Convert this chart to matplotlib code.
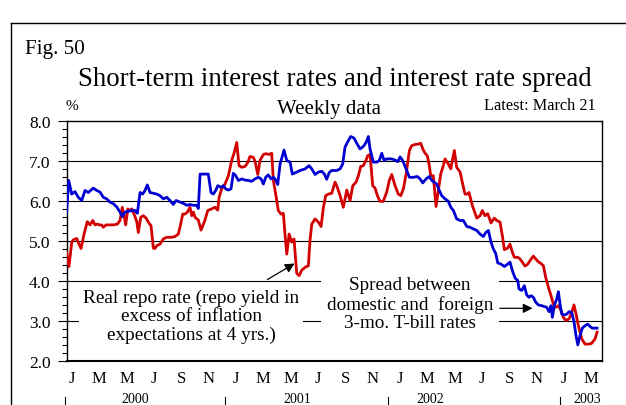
import matplotlib
matplotlib.use("Agg")
import matplotlib.pyplot as plt
from matplotlib.lines import Line2D
from matplotlib.ticker import MultipleLocator

plt.rcParams['font.family'] = ['Liberation Serif', 'DejaVu Serif']

# time axis: months since 1 Jan 2000 (weekly observations)
t_spread = [0.12,0.27,0.49,0.73,0.97,1.22,1.46,1.70,2.07,2.32,2.56,2.80,3.05,3.29,3.53,3.78,
            4.02,4.19,4.39,4.63,4.88,5.12,5.29,5.49,5.68,5.85,6.02,6.22,6.46,6.71,6.95,7.19,
            7.44,7.68,7.92,8.12,8.41,8.71,8.90,9.14,9.39,9.63,9.75,9.88,10.37,10.48,10.68,10.85,
            11.02,11.17,11.41,11.58,11.76,11.95,12.14,12.31,12.49,12.68,12.93,13.17,13.41,13.66,
            13.90,14.14,14.34,14.51,14.68,14.87,15.07,15.24,15.36,15.56,15.73,15.90,16.02,16.22,
            16.46,16.63,16.88,17.19,17.56,17.85,18.05,18.29,18.53,18.78,18.97,19.14,19.33,19.51,
            19.63,19.88,20.12,20.31,20.48,20.65,20.90,21.14,21.34,21.58,21.82,22.02,22.19,22.31,
            22.55,22.80,22.99,23.17,23.34,23.53,23.90,24.14,24.34,24.51,24.70,24.95,25.19,25.48,
            25.77,25.97,26.17,26.41,26.65,26.83,26.99,27.19,27.38,27.56,27.80,28.04,28.22,28.41,
            28.65,28.90,29.14,29.39,29.63,29.87,30.12,30.36,30.60,30.78,30.97,31.16,31.33,31.51,
            31.65,31.89,32.14,32.38,32.55,32.72,32.92,33.12,33.21,33.41,33.60,33.77,33.94,34.09,
            34.26,34.43,34.62,34.87,35.06,35.24,35.41,35.55,35.65,35.79,35.97,36.09,36.21,36.34,
            36.53,36.70,36.87,37.07,37.23,37.38,37.51,37.67,37.84,38.04,38.24,38.41,38.57,38.77,
            38.92]
spread = [5.73,6.52,6.18,6.24,6.10,6.02,6.27,6.22,6.33,6.27,6.23,6.10,6.06,5.98,5.94,5.86,
          5.73,5.62,5.73,5.75,5.77,5.77,5.70,6.22,6.18,6.27,6.41,6.22,6.20,6.18,6.14,6.06,
          6.10,6.02,5.92,6.02,5.98,5.94,5.90,5.92,5.90,5.90,5.82,6.68,6.68,6.68,6.22,6.18,
          6.27,6.39,6.35,6.39,6.31,6.28,6.31,6.70,6.64,6.52,6.56,6.53,6.52,6.50,
          6.56,6.60,6.56,6.43,6.60,6.66,6.56,6.60,6.56,6.42,6.93,7.13,7.28,7.02,
          6.98,6.68,6.72,6.77,6.81,6.89,6.81,6.67,6.73,6.75,6.68,6.55,6.72,6.77,
          6.77,6.77,6.81,6.93,7.35,7.47,7.62,7.58,7.45,7.31,7.37,7.47,7.62,7.31,
          6.98,6.98,7.02,7.20,7.02,7.06,7.06,7.03,6.99,7.11,7.02,6.81,6.60,6.60,
          6.62,6.56,6.46,6.56,6.62,6.52,6.48,6.43,6.27,6.14,6.06,6.00,5.85,5.77,
          5.56,5.52,5.52,5.37,5.35,5.31,5.27,5.18,5.12,5.22,5.27,4.98,4.81,4.69,
          4.46,4.43,4.37,4.43,4.48,4.27,4.08,4.02,3.81,3.77,3.89,3.66,3.60,3.64,
          3.60,3.48,3.41,3.39,3.37,3.35,3.24,3.39,3.10,3.39,3.56,3.74,3.43,3.18,
          3.16,3.18,3.24,3.22,2.99,2.64,2.41,2.64,2.83,2.89,2.93,2.87,2.83,2.83,
          2.83]

t_repo = [0.12,0.29,0.49,0.61,0.86,0.97,1.17,1.39,1.63,1.83,2.03,2.19,2.36,2.51,2.68,2.80,
          3.00,3.24,3.53,3.83,4.02,4.19,4.34,4.44,4.59,4.75,4.88,5.05,5.25,5.36,5.54,5.73,
          5.93,6.09,6.29,6.46,6.58,6.71,6.95,7.19,7.44,7.81,8.05,8.29,8.46,8.61,8.78,8.95,
          9.14,9.27,9.39,9.51,9.75,9.95,10.24,10.44,10.73,10.97,11.17,11.27,11.46,11.70,11.95,12.19,
          12.38,12.56,12.73,12.93,13.17,13.37,13.53,13.77,13.90,14.10,14.26,14.51,14.70,14.92,15.12,15.24,
          15.41,15.60,15.80,15.97,16.09,16.22,16.39,16.58,16.75,16.95,17.12,17.32,17.56,17.80,17.92,18.05,
          18.29,18.53,18.73,18.90,19.07,19.26,19.51,19.75,19.92,20.12,20.36,20.61,20.85,21.05,21.29,21.46,
          21.63,21.82,22.02,22.14,22.31,22.51,22.68,22.85,23.04,23.28,23.53,23.72,23.90,24.14,24.38,24.56,
          24.75,24.95,25.19,25.36,25.60,25.85,26.02,26.17,26.34,26.50,26.65,26.75,26.94,27.14,27.31,27.48,
          27.67,27.80,28.04,28.22,28.33,28.48,28.65,28.90,29.09,29.26,29.43,29.55,29.80,30.12,30.36,30.53,
          30.72,30.92,31.16,31.40,31.58,31.82,31.99,32.14,32.38,32.55,32.72,32.87,33.12,33.28,33.45,33.65,
          33.85,34.02,34.26,34.43,34.62,34.87,34.99,35.16,35.36,35.55,35.72,35.90,36.09,36.28,36.45,36.63,
          36.87,37.07,37.23,37.38,37.55,37.80,38.04,38.33,38.52,38.77,38.92]
repo = [4.72,4.37,4.97,5.04,5.07,4.97,4.82,5.18,5.49,5.41,5.52,5.41,5.43,5.41,5.41,5.35,
        5.41,5.41,5.41,5.43,5.52,5.85,5.60,5.41,5.81,5.77,5.81,5.68,5.49,5.22,5.60,5.64,
        5.58,5.48,5.39,4.83,4.82,4.89,4.93,5.06,5.10,5.10,5.12,5.18,5.43,5.68,5.68,5.73,
        5.85,5.64,5.73,5.60,5.53,5.28,5.53,5.77,5.81,5.85,5.78,6.10,6.31,6.43,6.64,7.02,
        7.22,7.47,6.89,6.85,6.87,6.97,7.12,7.10,7.00,6.67,7.02,7.17,7.19,7.17,7.20,6.52,
        6.18,5.77,5.68,5.70,5.18,4.68,5.18,4.98,5.06,4.20,4.14,4.28,4.35,4.39,5.02,5.43,
        5.56,5.48,5.37,5.85,6.14,6.18,6.20,6.48,6.35,6.14,5.85,6.28,6.02,6.39,6.48,6.64,
        6.87,6.89,7.03,7.14,7.17,6.39,6.33,6.14,6.00,6.00,6.23,6.52,6.67,6.39,6.18,6.14,
        6.31,6.68,7.27,7.39,7.42,7.43,7.45,7.31,7.20,7.14,6.89,6.64,6.64,5.87,6.27,6.68,
        6.89,7.06,6.93,6.81,7.02,7.27,6.85,6.73,6.43,6.18,6.18,6.22,5.89,5.58,5.64,5.77,
        5.64,5.69,5.46,5.58,5.52,5.48,5.14,4.79,4.83,4.93,4.73,4.60,4.60,4.56,4.48,4.38,
        4.43,4.52,4.63,4.56,4.49,4.43,4.39,4.10,3.85,3.64,3.43,3.35,3.39,3.27,3.10,3.02,
        3.06,3.23,3.41,3.18,2.89,2.56,2.43,2.43,2.45,2.56,2.73]

month_pos = [0.5 + 2 * k for k in range(20)]
month_labels = ['J', 'M', 'M', 'J', 'S', 'N'] * 3 + ['J', 'M']
year_labels = ['2000', '2001', '2002', '2003']
year_label_pos = [5.1, 17.0, 26.7, 38.2]
year_sep_pos = [0.0, 11.7, 23.6, 36.2]

BLUE = '#0000d2'
RED = '#d20000'

fig = plt.figure(figsize=(6.26, 4.06), dpi=100)
ax = fig.add_axes([0.1065, 0.1076, 0.8556, 0.5912])

ax.plot(t_repo, repo, color=RED, lw=2.0, zorder=3, solid_joinstyle='round')
ax.plot(t_spread, spread, color=BLUE, lw=2.0, zorder=4, solid_joinstyle='round')

ax.set_xlim(0.12, 39.3)
ax.set_ylim(2.0, 8.0)
ax.set_yticks([2, 3, 4, 5, 6, 7, 8])
ax.set_yticklabels([f'{v:.1f}' for v in [2, 3, 4, 5, 6, 7, 8]], fontsize=12.5)
ax.yaxis.set_minor_locator(MultipleLocator(0.2))
ax.tick_params(axis='y', which='major', direction='out', length=6.5, width=0.8, pad=5)
ax.tick_params(axis='y', which='minor', direction='out', length=3.5, width=0.8)
ax.set_xticks(month_pos)
ax.set_xticklabels(month_labels, fontsize=12)
ax.tick_params(axis='x', length=0, pad=6)

for y in [3, 4, 5, 6, 7]:
    ax.axhline(y, color='black', lw=0.8, zorder=1)
for s in ax.spines.values():
    s.set_linewidth(1.0)
ax.spines['bottom'].set_linewidth(1.5)

# year labels and separators below the month letters
xt = ax.get_xaxis_transform()
for x, lab in zip(year_label_pos, year_labels):
    ax.text(x, -0.18, lab, transform=xt, ha='center', va='bottom', fontsize=10, clip_on=False)
for x in year_sep_pos:
    ax.plot([x, x], [-0.148, -0.19], transform=xt, color='black', lw=0.8, clip_on=False)

# annotations
ax.text(9.22, 3.14, 'Real repo rate (repo yield in\nexcess of inflation\nexpectations at 4 yrs.)',
        ha='center', va='center', fontsize=13.9, linespacing=1.1, zorder=6,
        bbox=dict(facecolor='white', edgecolor='none', pad=3))
ax.annotate('', xy=(16.97, 4.48), xytext=(14.63, 4.01),
            arrowprops=dict(arrowstyle='-|>', color='black', lw=0.9, mutation_scale=14), zorder=7)
ax.text(25.24, 3.44, 'Spread between\ndomestic and  foreign\n3-mo. T-bill rates',
        ha='center', va='center', fontsize=13.8, linespacing=1.1, zorder=6,
        bbox=dict(facecolor='white', edgecolor='none', pad=4))
ax.annotate('', xy=(34.4, 3.325), xytext=(31.6, 3.325),
            arrowprops=dict(arrowstyle='-|>', color='black', lw=0.9, mutation_scale=14), zorder=7)

# header texts
fig.text(0.040, 0.866, 'Fig. 50', fontsize=15.2, ha='left', va='baseline')
fig.text(0.535, 0.788, 'Short-term interest rates and interest rate spread', fontsize=19.3,
         ha='center', va='baseline')
fig.text(0.105, 0.729, '%', fontsize=11, ha='left', va='baseline')
fig.text(0.525, 0.719, 'Weekly data', fontsize=15, ha='center', va='baseline')
fig.text(0.952, 0.729, 'Latest: March 21', fontsize=11.7, ha='right', va='baseline')

# outer frame (top and left edges)
fig.add_artist(Line2D([0.0171, 1.0], [0.9409, 0.9409], color='black', lw=1.0))
fig.add_artist(Line2D([0.0171, 0.0171], [0.0, 0.9409], color='black', lw=1.0))

fig.savefig('out.png', dpi=100)
